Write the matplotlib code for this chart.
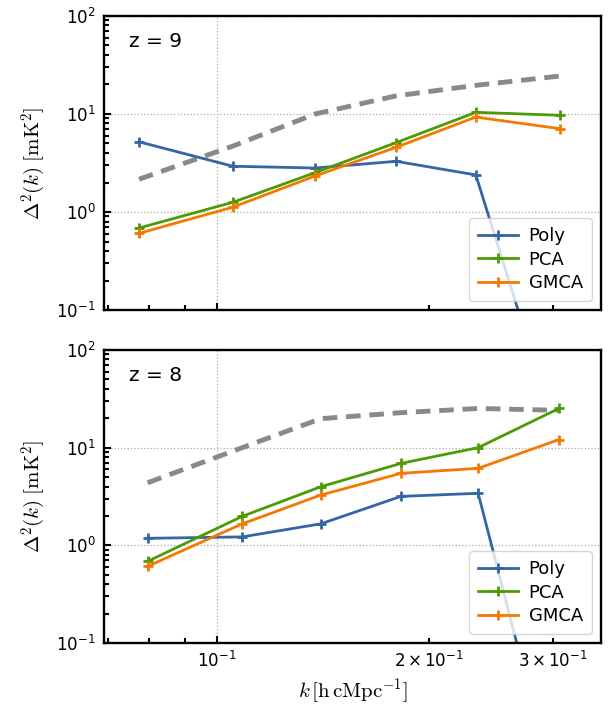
import numpy as np
import matplotlib
matplotlib.use("Agg")
import matplotlib.pyplot as plt

plt.rcParams['mathtext.fontset'] = 'cm'
plt.rcParams['axes.unicode_minus'] = False

# k bins for each redshift
k_z9 = [0.0775, 0.1053, 0.1378, 0.1796, 0.2331, 0.307]
k_z8 = [0.0797, 0.1086, 0.1404, 0.1825, 0.2349, 0.306]

# residual power spectra, z = 9
poly_z9 = [5.2, 2.93, 2.81, 3.29, 2.39, 0.0043]
pca_z9 = [0.687, 1.256, 2.52, 5.1, 10.4, 9.7]
gmca_z9 = [0.606, 1.12, 2.33, 4.57, 9.3, 7.08]
signal_z9 = [2.16, 4.7, 10.0, 15.3, 19.6, 24.4]

# residual power spectra, z = 8
poly_z8 = [1.18, 1.22, 1.66, 3.17, 3.41, 0.0021]
pca_z8 = [0.686, 1.98, 3.98, 6.9, 10.0, 25.2]
gmca_z8 = [0.61, 1.66, 3.27, 5.46, 6.14, 12.1]
signal_z8 = [4.37, 10.0, 19.8, 22.8, 25.2, 24.1]

panels = [
    ("z = 9", k_z9, poly_z9, pca_z9, gmca_z9, signal_z9),
    ("z = 8", k_z8, poly_z8, pca_z8, gmca_z8, signal_z8),
]

c_poly = '#3465a4'
c_pca = '#4e9a06'
c_gmca = '#f57900'
c_sig = '#888a85'

fig = plt.figure(figsize=(6.16, 7.07), dpi=100)
ax_top = fig.add_axes([0.1688, 0.5615, 0.8068, 0.4159])
ax_bot = fig.add_axes([0.1688, 0.0905, 0.8068, 0.4145])

for ax, (title, k, poly, pca, gmca, sig) in zip([ax_top, ax_bot], panels):
    ax.plot(k, sig, ls='--', color=c_sig, lw=3.5, dashes=(3, 1.8))
    ax.plot(k, poly, color=c_poly, lw=2, marker='+', ms=7, mew=2, label='Poly')
    ax.plot(k, pca, color=c_pca, lw=2, marker='+', ms=7, mew=2, label='PCA')
    ax.plot(k, gmca, color=c_gmca, lw=2, marker='+', ms=7, mew=2, label='GMCA')
    ax.set_xscale('log')
    ax.set_yscale('log')
    ax.set_xlim(0.0691, 0.351)
    ax.set_ylim(0.1, 100)
    ax.grid(True, which='major', ls=':', color='#aaaaaa', lw=0.9)
    ax.tick_params(which='both', direction='in', top=False, right=False,
                   labelsize=12, width=1.5, pad=6)
    ax.tick_params(which='major', length=5)
    ax.tick_params(which='minor', length=3.5)
    for s in ax.spines.values():
        s.set_linewidth(1.7)
    ax.text(0.05, 0.945, title, transform=ax.transAxes, fontsize=14.5,
            va='top', ha='left')
    ax.set_ylabel(r'$\Delta^2(k)\;[\mathrm{mK}^2]$', fontsize=15, labelpad=6)
    ax.legend(loc='lower right', fontsize=13, numpoints=1,
              handlelength=2.2, borderpad=0.5, labelspacing=0.3,
              handletextpad=0.6)

ax_top.tick_params(axis='x', which='both', labelbottom=False)
ax_bot.set_xlabel(r'$k\,[\mathrm{h\,cMpc^{-1}}]$', fontsize=15)

fig.savefig('out.png', dpi=100)
